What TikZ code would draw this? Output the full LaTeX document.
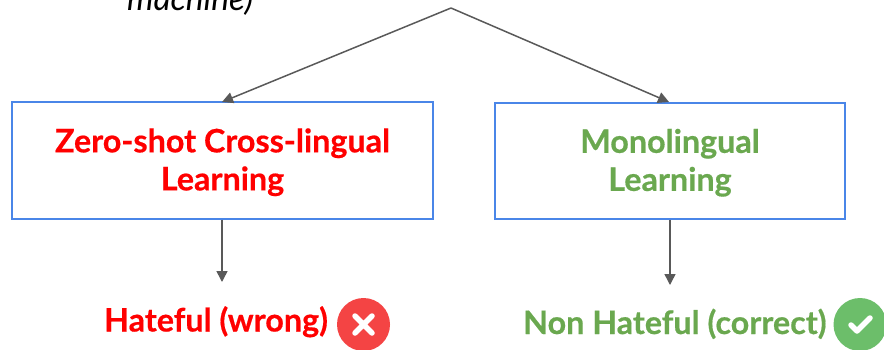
\documentclass[tikz,border=0pt]{standalone}
\usepackage{fontspec}
\setmainfont[BoldFeatures={FakeBold=0.5}]{Lato}
\usetikzlibrary{arrows.meta}
\definecolor{boxblue}{HTML}{4A86E8}
\definecolor{arrowgrey}{HTML}{595959}
\definecolor{hotred}{HTML}{FF0000}
\definecolor{leaf}{HTML}{6AA84F}
\definecolor{badge red}{HTML}{F44444}
\definecolor{badge green}{HTML}{6CBE6A}
\tikzset{
  x=1pt,y=-1pt,
  flowbox/.style={draw=boxblue,line width=1.4pt,fill=white,inner sep=0pt,align=center,font=\fontsize{32.3}{38}\selectfont\bfseries},
  link/.style={draw=arrowgrey,line width=1.5pt,-{Triangle[length=11pt,width=11pt]}},
  verdict/.style={inner sep=0pt,anchor=base west,font=\fontsize{32.3}{38}\selectfont\bfseries},
  badge/.style={circle,inner sep=0pt,minimum size=53pt},
  glyph/.style={draw=white,line width=5.5pt,line cap=round,line join=round}
}
\begin{document}
\begin{tikzpicture}
\useasboundingbox (0,0) rectangle (884,349);
\clip (0,0) rectangle (884,349);
\node[inner sep=0pt,anchor=base west,font=\fontsize{33.5}{37}\selectfont\itshape] (mach) at (127,10.5) {machine)};
\coordinate (apex) at (451,8);
\node[flowbox,text=hotred,minimum width=421pt,minimum height=117pt] (zero) at (222.5,160.5) {\rule{0pt}{27.5pt}Zero-shot Cross-lingual\\Learning};
\node[flowbox,text=leaf,minimum width=350pt,minimum height=116pt] (mono) at (670,161) {\rule{0pt}{27.5pt}Monolingual\\Learning};
\coordinate (zerotop) at (222,102);
\coordinate (monotop) at (669,102);
\coordinate (zeroend) at (222,282);
\coordinate (monoend) at (670,285);
\node[verdict,text=hotred] (hate) at (104,331.5) {Hateful (wrong)};
\node[verdict,text=leaf] (non) at (523,334) {Non Hateful (correct)};
\draw[link] (apex) -- (zerotop);
\draw[link] (apex) -- (monotop);
\draw[link] (zero.south -| zeroend) -- (zeroend);
\draw[link] (mono.south -| monoend) -- (monoend);
\node[badge,fill=badge red] (bad) at (363.5,324.5) {};
\node[badge,fill=badge green] (good) at (860,324.5) {};
\draw[glyph] (355,316) -- (372,333) (372,316) -- (355,333);
\draw[glyph] (851,325) -- (857,331) -- (870,318);
\end{tikzpicture}
\end{document}
